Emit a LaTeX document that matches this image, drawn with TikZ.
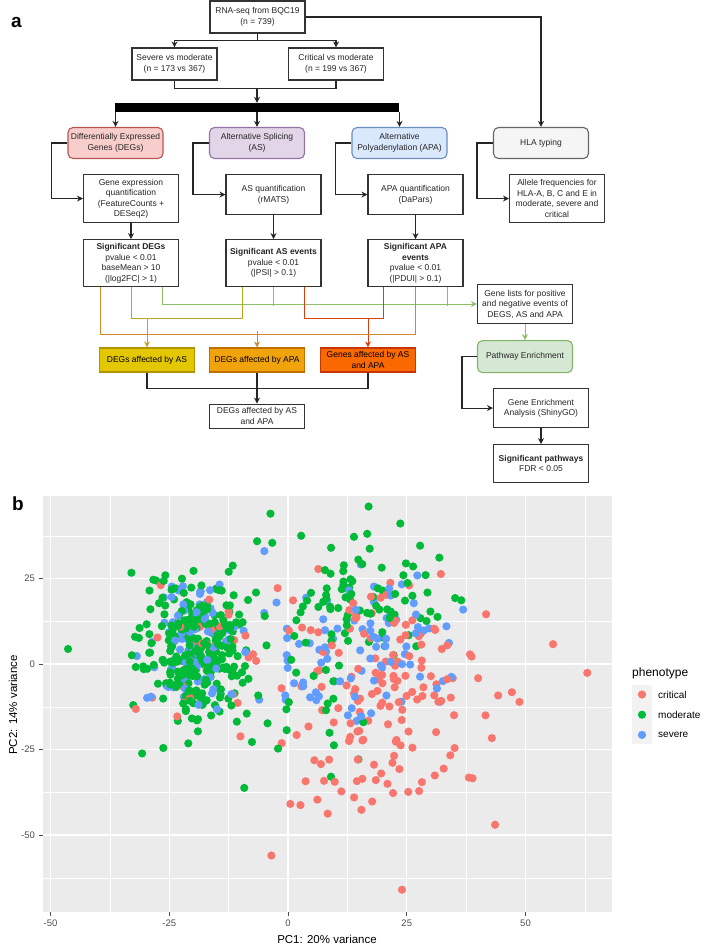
\documentclass[tikz,border=0pt]{standalone}
\usepackage{fontspec}
\setmainfont{Liberation Sans}
\usepackage{tikz}
\usetikzlibrary{positioning,calc,arrows.meta}

\definecolor{ggcrit}{HTML}{F8766D}
\definecolor{ggmod}{HTML}{00BA38}
\definecolor{ggsev}{HTML}{619CFF}
\definecolor{ggpanel}{HTML}{EBEBEB}
\definecolor{ggkey}{HTML}{F2F2F2}
\definecolor{ggtext}{HTML}{4D4D4D}
\definecolor{degfill}{HTML}{F8CECC}
\definecolor{degline}{HTML}{B85450}
\definecolor{asfill}{HTML}{E1D5E7}
\definecolor{asline}{HTML}{9673A6}
\definecolor{apafill}{HTML}{DAE8FC}
\definecolor{apaline}{HTML}{6C8EBF}
\definecolor{hlafill}{HTML}{F5F5F5}
\definecolor{hlaline}{HTML}{666666}
\definecolor{pathfill}{HTML}{D5E8D4}
\definecolor{pathline}{HTML}{82B366}
\definecolor{yelfill}{HTML}{E3C800}
\definecolor{yelline}{HTML}{B09500}
\definecolor{orgfill}{HTML}{F0A30A}
\definecolor{orgline}{HTML}{BD7000}
\definecolor{redfill}{HTML}{FA6800}
\definecolor{redline}{HTML}{C73500}
\definecolor{yelwire}{HTML}{C0A520}
\definecolor{orgwire}{HTML}{D08A2A}
\definecolor{redwire}{HTML}{D84010}
\definecolor{grnwire}{HTML}{8CC068}
\colorlet{dot0}{ggmod}
\colorlet{dot1}{ggmod}
\colorlet{dot2}{ggmod}
\colorlet{dot3}{ggsev}
\colorlet{dot4}{ggsev}
\colorlet{dot5}{ggcrit}
\colorlet{dot6}{ggcrit}

\tikzset{
	box/.style={draw=black!80, line width=1.1pt, fill=white, align=center, inner sep=1pt,
		minimum width=95pt, font=\fontsize{8.5}{10.5}\selectfont, text=black!85},
	rbox/.style={box, rounded corners=5pt},
	degbox/.style={rbox, fill=degfill, draw=degline},
	asbox/.style={rbox, fill=asfill, draw=asline},
	apabox/.style={rbox, fill=apafill, draw=apaline},
	hlabox/.style={rbox, fill=hlafill, draw=hlaline},
	pathbox/.style={rbox, fill=pathfill, draw=pathline},
	yelbox/.style={box, fill=yelfill, draw=yelline, text=black},
	orgbox/.style={box, fill=orgfill, draw=orgline, text=black},
	redbox/.style={box, fill=redfill, draw=redline, text=black},
	link/.style={line width=1.1pt, draw=black!85},
	arr/.style={-{Stealth[length=6pt,width=6pt]}},
	yell/.style={line width=0.9pt, draw=yelwire},
	orgl/.style={line width=0.9pt, draw=orgwire},
	redl/.style={line width=0.9pt, draw=redwire},
	grnl/.style={line width=0.9pt, draw=grnwire},
	majorgrid/.style={white, line width=1.1pt},
	minorgrid/.style={white, line width=0.5pt},
	tickmark/.style={ggtext, line width=0.8pt},
	ticklab/.style={ggtext, inner sep=0, font=\fontsize{9.5}{9.5}\selectfont},
	paneltag/.style={anchor=base west, inner sep=0, font=\fontsize{19}{19}\selectfont\bfseries},
}

\begin{document}
\begin{tikzpicture}[x=1pt,y=-1pt]
	\useasboundingbox (0,0) rectangle (707,945);
	\node[paneltag] (taga) at (11,27) {a};
	\node[paneltag] (tagb) at (12,510) {b};

	\node[box, minimum height=32pt] (rna) at (257.5,17) {RNA-seq from BQC19\\(n = 739)};
	\node[box, minimum width=85pt, minimum height=32pt] (sev) at (174.5,64) {Severe vs moderate\\(n = 173 vs 367)};
	\node[box, minimum height=32pt] (crit) at (336,64) {Critical vs moderate\\(n = 199 vs 367)};
	\node[fill=black, inner sep=0, minimum width=284pt, minimum height=9pt] (bar) at (257,107.5) {};

	\node[degbox, minimum height=31pt] (degs) at (115.5,143) {Differentially Expressed\\Genes (DEGs)};
	\node[asbox, minimum height=31pt] (asp) at (257,143) {Alternative Splicing\\(AS)};
	\node[apabox, minimum height=31pt] (apa) at (399.5,143) {Alternative\\Polyadenylation (APA)};
	\node[hlabox, minimum height=31pt] (hla) at (541,143) {HLA typing};

	\node[box, anchor=north, minimum height=48pt] (geq) at (131,174) {Gene expression\\quantification\\(FeatureCounts +\\DESeq2)};
	\node[box, anchor=north, minimum height=40pt] (asq) at (273.5,174) {AS quantification\\(rMATS)};
	\node[box, anchor=north, minimum height=40pt] (apaq) at (415.5,174) {APA quantification\\(DaPars)};
	\node[box, anchor=north, minimum height=48pt] (allele) at (557,174) {Allele frequencies for\\HLA-A, B, C and E in\\moderate, severe and\\critical};

	\node[box, minimum height=47pt, below=16pt of geq] (sigdeg) {\textbf{Significant DEGs}\\pvalue < 0.01\\baseMean > 10\\(|log2FC| > 1)};
	\node[box, minimum height=47pt, below=24pt of asq] (sigas) {\textbf{Significant AS events}\\pvalue < 0.01\\(|PSI| > 0.1)};
	\node[box, minimum height=47pt, below=24pt of apaq] (sigapa) {\textbf{Significant APA}\\\textbf{events}\\pvalue < 0.01\\(|PDUI| > 0.1)};

	\node[box, minimum height=39pt] (genelist) at (525,304) {Gene lists for positive\\and negative events of\\DEGS, AS and APA};
	\node[pathbox, minimum height=32pt, below=16pt of genelist] (pathway) {Pathway Enrichment};
	\node[box, anchor=north, minimum height=39pt] (enrich) at (541,388) {Gene Enrichment\\Analysis (ShinyGO)};
	\node[box, minimum height=38pt, below=16pt of enrich] (sigpath) {\textbf{Significant pathways}\\FDR < 0.05};

	\node[yelbox, minimum height=24pt] (degas) at (147,360) {DEGs affected by AS};
	\node[orgbox, minimum height=24pt] (degapa) at (257,360) {DEGs affected by APA};
	\node[redbox, minimum height=24pt] (genesasapa) at (368,360) {Genes affected by AS\\and APA};
	\node[box, minimum height=24pt, below=31pt of degapa] (final) {DEGs affected by AS\\and APA};

	\draw[link,arr] (rna.east) -| (hla.north);
	\draw[link,arr] (rna.south) -- ++(0,7) coordinate (rj) -| (sev.north);
	\draw[link,arr] (rj) -| (crit.north);
	\draw[link] (sev.south) -- ++(0,8) coordinate (sj) -| (crit.south);
	\draw[link,arr] (sj -| bar.north) -- (bar.north);
	\foreach \n in {degs,asp,apa}
		\draw[link,arr] (bar.south -| \n.north) -- (\n.north);
	\foreach \a/\b in {degs/geq,asp/asq,apa/apaq,hla/allele}
		\draw[link,arr] (\a.west) -- ++(-16,0) |- (\b.west);
	\foreach \a/\b in {geq/sigdeg,asq/sigas,apaq/sigapa,enrich/sigpath,degapa/final}
		\draw[link,arr] (\a) -- (\b);

	\draw[grnl,arr] ($(sigdeg.south)+(31,0)$) |- (genelist.west);
	\draw[grnl] (sigas.south) -- ++(0,19);
	\draw[grnl] ($(sigapa.south)+(32,0)$) -- ++(0,19);
	\draw[yell] (sigdeg.south) -- ++(0,31) -| ($(sigas.south)+(-31,0)$);
	\draw[yell,arr] (sigdeg.south) ++(0,31) -| (degas.north);
	\draw[redl] ($(sigas.south)+(31,0)$) -- ++(0,31) -| ($(sigapa.south)+(-32,0)$);
	\draw[redl,arr] ($(sigapa.south)+(-32,31)$) -| (genesasapa.north);
	\draw[orgl] ($(sigdeg.south)+(-31,0)$) -- ++(0,47) -| (sigapa.south);
	\draw[orgl,arr] ($(degapa.north)+(0,-16)$) -- (degapa.north);
	\draw[grnl,arr] (genelist) -- (pathway);
	\draw[link,arr] (pathway.west) -- ++(-15,0) |- (enrich.west);
	\draw[link] (degas.south) -- ++(0,16) -| (genesasapa.south);

	\begin{scope}[shift={(288,664)},x=4.75pt,y=3.42pt]
		\fill[ggpanel] (-51.5,-72.5) rectangle (68.3,49.1);
		\foreach \g in {-37.5,-12.5,12.5,37.5,62.5}
			\draw[minorgrid] (\g,-72.5) -- (\g,49.1);
		\foreach \g in {-62.5,-37.5,-12.5,12.5,37.5}
			\draw[minorgrid] (-51.5,\g) -- (68.3,\g);
		\foreach \g in {-50,-25,0,25,50}{
			\draw[majorgrid] (\g,-72.5) -- (\g,49.1);
			\draw[tickmark] (\g,-72.5) -- ++(0pt,-4pt) node[ticklab, anchor=north, yshift=-4pt] (xt\g) {\g};
		}
		\foreach \g in {-50,-25,0,25}{
			\draw[majorgrid] (-51.5,\g) -- (68.3,\g);
			\draw[tickmark] (-51.5,\g) -- ++(-4pt,0pt) node[ticklab, anchor=east, xshift=-4pt] (yt\g) {\g};
		}
		\begin{scope}
			\clip (-51.5,-72.5) rectangle (68.3,49.1);
			\pgfmathsetseed{739}
			\foreach \i in {1,...,735}{
				\pgfmathsetmacro\ru{rnd}
				\pgfmathtruncatemacro\cl{\ru<0.33 ? 0 : (\ru<0.435 ? 1 : (\ru<0.495 ? 2 : (\ru<0.59 ? 3 : (\ru<0.73 ? 4 : (\ru<0.77 ? 5 : 6)))))}
				\pgfmathsetmacro\ptx{{-20,14,-3,-20,13,-19,20}[\cl] + {5.5,9,12,5.5,10,6,11}[\cl]*(rand+rand+rand)}
				\pgfmathsetmacro\pty{{6,22,-14,5,3,0,-10}[\cl] + {10,9,13,10,11,10,15}[\cl]*(rand+rand+rand)}
				\fill[dot\cl] (\ptx,\pty) circle[radius=4.1pt];
			}
			\fill[ggmod] (-46.3,4.4) circle[radius=4.1pt];
			\fill[ggcrit] (63,-2.6) circle[radius=4.1pt];
			\fill[ggcrit] (55.8,5.8) circle[radius=4.1pt];
			\fill[ggcrit] (43.6,-47) circle[radius=4.1pt];
			\fill[ggcrit] (24,-66) circle[radius=4.1pt];
			\fill[ggcrit] (-3.5,-56) circle[radius=4.1pt];
		\end{scope}
	\end{scope}

	\node[font=\fontsize{11.5}{11.5}\selectfont, inner sep=0] (xlab) at (327,939) {PC1: 20\% variance};
	\node[font=\fontsize{11.5}{11.5}\selectfont, inner sep=0, rotate=90] (ylab) at (13,705) {PC2: 14\% variance};
	\node[anchor=west, inner sep=0, font=\fontsize{12}{12}\selectfont] (legtitle) at (632,673) {phenotype};
	\foreach \c/\lab [count=\j from 0] in {ggcrit/critical,ggmod/moderate,ggsev/severe}{
		\fill[ggkey] (632,685+19.7*\j) rectangle ++(20,19.7);
		\fill[\c] (642,694.5+20.2*\j) circle[radius=4.1pt];
		\node[anchor=west, inner sep=0, font=\fontsize{10}{10}\selectfont] (key\j) at (658,694.5+20.2*\j) {\lab};
	}
\end{tikzpicture}
\end{document}
